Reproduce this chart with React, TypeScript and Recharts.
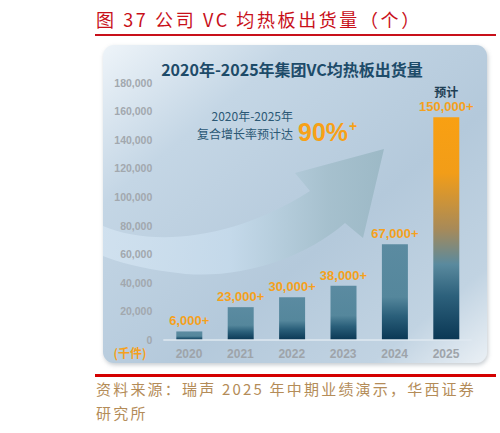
import React from 'react';
import { BarChart, Bar, XAxis, YAxis, Cell, LabelList } from 'recharts';

const years = ['2020', '2021', '2022', '2023', '2024', '2025'];
const shipments = [6000, 23000, 30000, 38000, 67000, 156000];
const valueLabels = ['6,000+', '23,000+', '30,000+', '38,000+', '67,000+', '150,000+'];
const yTicks = [0, 20000, 40000, 60000, 80000, 100000, 120000, 140000, 160000, 180000];

const data = years.map((year, i) => ({ year, value: shipments[i] }));

const CJK = '"Noto Sans CJK SC", "Noto Sans", sans-serif';
const LATIN = '"Liberation Sans", Arial, sans-serif';

const renderLabel = (props: any) => {
  const { x, y, width, index } = props;
  const cx = Number(x) + Number(width) / 2;
  const top = Number(y);
  return (
    <g>
      {index === 5 && (
        <text x={cx} y={top - 20} textAnchor="middle" fontSize={12} fontWeight="bold" fill="#1f3f55" fontFamily={CJK}>
          预计
        </text>
      )}
      <text x={cx} y={top - 6} textAnchor="middle" fontSize={13} fontWeight="bold" fill="#f5a11c" fontFamily={LATIN}>
        {valueLabels[index]}
      </text>
    </g>
  );
};

export default function App() {
  return (
    <div style={{ position: 'absolute', left: 0, top: 0, width: 500, height: 433, background: '#fff', overflow: 'hidden' }}>
      <svg width={500} height={433} style={{ position: 'absolute', left: 0, top: 0 }}>
        <defs>
          <linearGradient id="panelBg" x1="0" y1="0" x2="1" y2="1">
            <stop offset="0" stopColor="#eef4f9" />
            <stop offset="0.25" stopColor="#c4d6e5" />
            <stop offset="0.6" stopColor="#b4c9db" />
            <stop offset="0.85" stopColor="#c1d3e2" />
            <stop offset="1" stopColor="#eaf0f5" />
          </linearGradient>
          <linearGradient id="arrowFill" x1="0" y1="0" x2="1" y2="0">
            <stop offset="0" stopColor="#d6e6f3" stopOpacity="0.7" />
            <stop offset="0.45" stopColor="#c6dbec" stopOpacity="0.85" />
            <stop offset="0.8" stopColor="#a4bfcc" stopOpacity="0.9" />
            <stop offset="1" stopColor="#9bb8c5" stopOpacity="0.95" />
          </linearGradient>
          <linearGradient id="barBlue" x1="0" y1="0" x2="0" y2="1">
            <stop offset="0" stopColor="#5b8ba1" />
            <stop offset="0.55" stopColor="#55879c" />
            <stop offset="0.75" stopColor="#2a5f7a" />
            <stop offset="1" stopColor="#0a3754" />
          </linearGradient>
          <linearGradient id="barOrange" x1="0" y1="0" x2="0" y2="1">
            <stop offset="0" stopColor="#f9a012" />
            <stop offset="0.25" stopColor="#f29d18" />
            <stop offset="0.5" stopColor="#a88a58" />
            <stop offset="0.66" stopColor="#5a8a9e" />
            <stop offset="0.8" stopColor="#2d617c" />
            <stop offset="1" stopColor="#0a3754" />
          </linearGradient>
          <filter id="shadow" x="-5%" y="-5%" width="110%" height="115%">
            <feDropShadow dx="1" dy="2" stdDeviation="2" floodColor="#7f8c96" floodOpacity="0.45" />
          </filter>
        </defs>

        <text x={96} y={27} fontSize={18} fill="#c8101a" fontFamily={CJK} letterSpacing={2.6}>
          图 37 公司 VC 均热板出货量（个）
        </text>
        <rect x={95} y={34} width={401} height={2} fill="#c8101a" />

        <rect x={103} y={45} width={384} height={318} rx={11} fill="url(#panelBg)" filter="url(#shadow)" />

        <path
          d="M103,226 C150,246 230,242 310,191 L295,173 L384,149 L363,238 L345,223 C300,262 230,282 170,272 C140,268 118,262 103,256 Z"
          fill="url(#arrowFill)"
        />

        <text x={292} y={76} textAnchor="middle" fontSize={16} fontWeight="bold" fill="#1d4b69" fontFamily={CJK}>
          2020年-2025年集团VC均热板出货量
        </text>
        <text x={293} y={121} textAnchor="end" fontSize={12} fill="#2b5875" fontFamily={CJK}>
          2020年-2025年
        </text>
        <text x={293} y={139} textAnchor="end" fontSize={12} fill="#2b5875" fontFamily={CJK}>
          复合增长率预计达
        </text>
        <text x={298} y={141} fontSize={25} fontWeight="bold" fill="#f7a117" fontFamily={LATIN}>
          90%
        </text>
        <text x={349} y={131} fontSize={14} fontWeight="bold" fill="#f7a117" fontFamily={LATIN}>
          +
        </text>
        <text x={130} y={358} textAnchor="middle" fontSize={12} fontWeight="bold" fill="#f5a11c" fontFamily={CJK}>
          (千件)
        </text>

        <rect x={95} y={374} width={401} height={3} fill="#d40000" />
        <text x={96} y={395} fontSize={15} fill="#b48c58" fontFamily={CJK} letterSpacing={2.2}>
          资料来源：瑞声 2025 年中期业绩演示，华西证券
        </text>
        <text x={96} y={419} fontSize={15} fill="#b48c58" fontFamily={CJK} letterSpacing={2.2}>
          研究所
        </text>
      </svg>

      <div style={{ position: 'absolute', left: 0, top: 0 }}>
        <BarChart
          width={500}
          height={433}
          data={data}
          margin={{ top: 83, right: 28.3, bottom: 73, left: 103.3 }}
        >
          <XAxis
            dataKey="year"
            height={20}
            axisLine={{ stroke: '#dfe9f1', strokeWidth: 1.5 }}
            tickLine={false}
            tickMargin={3}
            tick={{ fill: '#9ea4aa', fontSize: 12, fontWeight: 'bold', fontFamily: LATIN }}
          />
          <YAxis
            width={60}
            domain={[0, 180000]}
            ticks={yTicks}
            axisLine={false}
            tickLine={false}
            tickMargin={5}
            interval={0}
            tickFormatter={(v: number) => v.toLocaleString('en-US')}
            tick={{ fill: '#a2a8ae', fontSize: 10.5, fontWeight: 'bold', fontFamily: LATIN }}
          />
          <Bar dataKey="value" barSize={26} isAnimationActive={false}>
            {data.map((d, i) => (
              <Cell key={d.year} fill={i === 5 ? 'url(#barOrange)' : 'url(#barBlue)'} />
            ))}
            <LabelList dataKey="value" content={renderLabel} />
          </Bar>
        </BarChart>
      </div>
    </div>
  );
}
